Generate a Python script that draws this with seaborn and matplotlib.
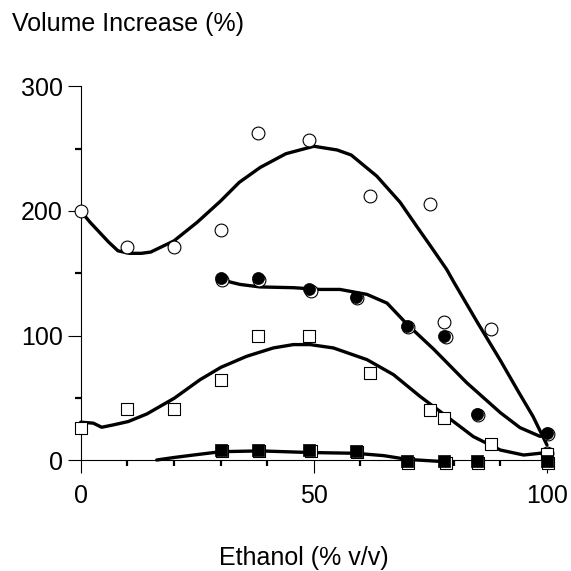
import matplotlib
matplotlib.use("Agg")
import matplotlib.pyplot as plt
from matplotlib.ticker import FixedLocator
from matplotlib.transforms import offset_copy
import seaborn as sns

# ---------------- data ----------------
# open circles
oc_x = [0, 10, 20, 30, 38, 49, 62, 75, 78, 88, 100]
oc_y = [200, 171, 171, 185, 263, 257, 212, 206, 111, 105, 6]
# filled circles
fc_x = [30, 38, 49, 59, 70, 78, 85, 100]
fc_y = [146, 146, 137, 131, 108, 100, 37, 22]
# open squares
os_x = [0, 10, 20, 30, 38, 49, 62, 75, 78, 88, 100]
os_y = [26, 41, 41, 64, 100, 100, 70, 40, 34, 13, 5]
# filled squares
fs_x = [30, 38, 49, 59, 70, 78, 85, 100]
fs_y = [8, 8, 8, 7.5, -1, -1, -1, -1]

# fitted curves (read at points along each line)
c1_x = [0, 2, 4, 6, 8, 10.5, 13, 15, 20, 25, 30, 34, 38.5, 44, 50, 55, 58, 63.5, 68.5, 72, 75, 78.5, 80, 85, 90, 94, 97, 100]
c1_y = [200, 191, 183, 175, 168, 166, 166, 167, 176, 191, 208, 223, 235, 246, 252, 249, 245, 228, 207, 188, 172, 153, 143, 111, 80, 54, 35, 12]

c2_x = [30, 32, 34.2, 38.5, 45.6, 51.3, 55.6, 61.4, 65.7, 70, 75.7, 82.8, 90, 94.2, 98.5, 100]
c2_y = [146, 143, 141, 139, 138.4, 137, 137, 133, 126, 109, 89, 62, 38, 26, 19, 21]

c3_x = [0, 2.7, 4.5, 7, 10.2, 14.2, 20.1, 25.6, 30.1, 35.6, 41.3, 45.6, 49.2, 54.2, 61.4, 67.1, 72.8, 78.5, 84.2, 90, 95, 100]
c3_y = [30.4, 29.6, 26.3, 28.2, 30.9, 37, 49.7, 64.5, 74.5, 83.3, 90, 92.7, 92.7, 90, 80.6, 68.5, 51, 35, 18.8, 8, 4, 6]

c4_x = [16.3, 20, 24.2, 30.1, 38.5, 49.2, 58.9, 65, 70, 77.8]
c4_y = [0, 2, 4, 6.7, 7.3, 6, 5.4, 3.5, 0.5, -1.3]

x_major = [0, 50, 100]
x_minor = [10, 20, 30, 40, 60, 70, 80, 90]
y_major = [0, 100, 200, 300]
y_minor = [50, 150, 250]

# ---------------- plot ----------------
sns.set_style("ticks")
plt.rcParams['font.family'] = ['Liberation Sans', 'DejaVu Sans']
plt.rcParams['text.color'] = 'black'
plt.rcParams['xtick.color'] = 'black'
plt.rcParams['ytick.color'] = 'black'

fig = plt.figure(figsize=(5.71, 5.71), dpi=100)
ax = fig.add_axes([80.7 / 571, 111 / 571, (547 - 80.7) / 571, (460 - 86.5) / 571])

lw = 2.4
for cx, cy in [(c1_x, c1_y), (c2_x, c2_y), (c3_x, c3_y), (c4_x, c4_y)]:
    sns.lineplot(x=cx, y=cy, sort=False, color='black', lw=lw, ax=ax,
                 estimator=None, clip_on=False, zorder=2)

# open markers
sns.scatterplot(x=oc_x, y=oc_y, marker='o', s=85, facecolor='white',
                edgecolor='black', linewidth=0.8, ax=ax, clip_on=False, zorder=3)
sns.scatterplot(x=os_x, y=os_y, marker='s', s=80, facecolor='white',
                edgecolor='black', linewidth=0.8, ax=ax, clip_on=False, zorder=3)

# filled markers with a little shadow to the lower right
shadow = offset_copy(ax.transData, fig=fig, x=1.0, y=-1.0, units='points')
sns.scatterplot(x=fc_x, y=fc_y, marker='o', s=85, facecolor='white',
                edgecolor='black', linewidth=0.8, ax=ax, clip_on=False,
                zorder=3, transform=shadow)
sns.scatterplot(x=fc_x, y=fc_y, marker='o', s=75, facecolor='black',
                edgecolor='black', linewidth=0.5, ax=ax, clip_on=False, zorder=4)
sns.scatterplot(x=fs_x, y=fs_y, marker='s', s=80, facecolor='white',
                edgecolor='black', linewidth=0.8, ax=ax, clip_on=False,
                zorder=3, transform=shadow)
sns.scatterplot(x=fs_x, y=fs_y, marker='s', s=70, facecolor='black',
                edgecolor='black', linewidth=0.5, ax=ax, clip_on=False, zorder=4)

ax.set_xlim(0, 100)
ax.set_ylim(0, 300)
ax.xaxis.set_major_locator(FixedLocator(x_major))
ax.xaxis.set_minor_locator(FixedLocator(x_minor))
ax.yaxis.set_major_locator(FixedLocator(y_major))
ax.yaxis.set_minor_locator(FixedLocator(y_minor))
ax.set_xticklabels([str(v) for v in x_major])
ax.set_yticklabels([str(v) for v in y_major])

ax.tick_params(which='major', length=9.4, width=0.8, labelsize=18,
               color='black', labelcolor='black')
ax.tick_params(which='minor', length=4, width=1.6, color='black')
ax.tick_params(axis='x', which='major', pad=8)
ax.tick_params(axis='y', which='major', pad=3.5)

for side in ['top', 'right']:
    ax.spines[side].set_visible(False)
for side in ['left', 'bottom']:
    ax.spines[side].set_linewidth(0.8)
    ax.spines[side].set_color('black')
ax.set_xlabel('')
ax.set_ylabel('')

fig.text(12 / 571, 1 - 31.5 / 571, 'Volume Increase (%)', fontsize=18,
         ha='left', va='baseline', color='black')
fig.text(304 / 571, 1 - 565 / 571, 'Ethanol (% v/v)', fontsize=18,
         ha='center', va='baseline', color='black')

fig.savefig('out.png', dpi=100, facecolor='white')
